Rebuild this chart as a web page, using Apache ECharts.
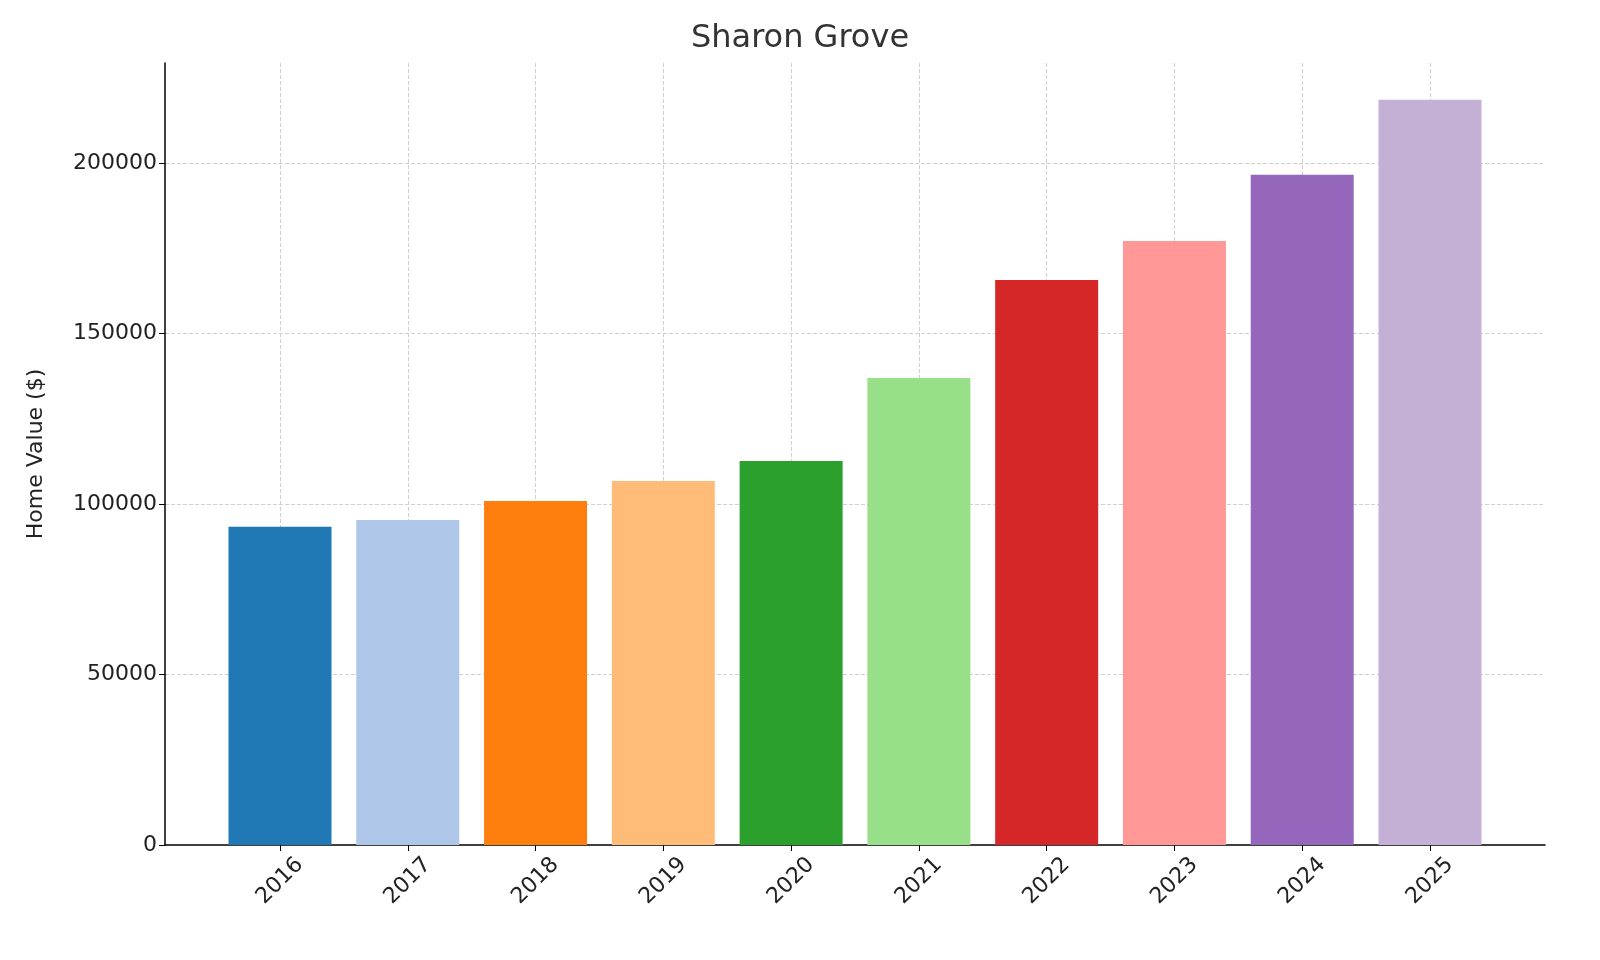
<!DOCTYPE html>
<html>
<head>
<meta charset="utf-8">
<script src="https://cdn.jsdelivr.net/npm/echarts@6/dist/echarts.min.js"></script>
<style>html,body{margin:0;padding:0;background:#fff}#chart{width:1600px;height:960px}</style>
</head>
<body>
<div id="chart"></div>
<script>
// data
const years = ['2016', '2017', '2018', '2019', '2020', '2021', '2022', '2023', '2024', '2025']
const homeValues = [93300, 95300, 100900, 106700, 112600, 136900, 165700, 177100, 196500, 218500]
const barColors = ['#1f77b4', '#aec7e8', '#ff7f0e', '#ffbb78', '#2ca02c', '#98df8a', '#d62728', '#ff9896', '#9467bd', '#c5b0d5']

const font = 'DejaVu Sans'
const yMax = 229300

const chart = echarts.init(document.getElementById('chart'), null, { renderer: 'canvas' })
chart.setOption({
  animation: false,
  title: {
    text: 'Sharon Grove',
    left: 'center',
    top: 18,
    textStyle: { fontFamily: font, fontSize: 32, fontWeight: 'normal', color: '#333' }
  },
  grid: [
    // full frame: axis lines, y labels, horizontal grid
    { left: 165, right: 55, top: 63, bottom: 115 },
    // bar area: category centres from first to last bar
    { left: 280, right: 170, top: 63, bottom: 115 }
  ],
  xAxis: [
    {
      gridIndex: 0, type: 'value', min: 0, max: 1,
      axisLine: { show: true, onZero: false, lineStyle: { color: '#000', width: 1.5 } },
      axisTick: { show: false }, axisLabel: { show: false }, splitLine: { show: false }
    },
    {
      gridIndex: 1, type: 'category', data: years, boundaryGap: false,
      axisLine: { show: false },
      axisTick: { show: true, length: 6, lineStyle: { color: '#000' } },
      axisLabel: {
        rotate: 45, align: 'center', verticalAlign: 'middle', margin: 36,
        fontFamily: font, fontSize: 22, color: '#222'
      },
      splitLine: { show: true, lineStyle: { type: 'dashed', color: '#d0d0d0' } }
    }
  ],
  yAxis: [
    {
      gridIndex: 0, type: 'value', min: 0, max: yMax, interval: 50000,
      name: 'Home Value ($)', nameLocation: 'middle', nameGap: 118,
      nameTextStyle: { fontFamily: font, fontSize: 22, color: '#222' },
      axisLine: { show: true, lineStyle: { color: '#000', width: 1.5 } },
      axisTick: { show: true, length: 6, lineStyle: { color: '#000' } },
      axisLabel: { fontFamily: font, fontSize: 22, color: '#222', showMaxLabel: false, formatter: v => String(v) },
      splitLine: { show: true, showMaxLine: false, showMinLine: false, lineStyle: { type: 'dashed', color: '#d0d0d0' } }
    },
    {
      gridIndex: 1, type: 'value', min: 0, max: yMax, show: false,
      splitLine: { show: false }
    }
  ],
  series: [{
    type: 'bar',
    xAxisIndex: 1,
    yAxisIndex: 1,
    clip: false,
    barWidth: 103,
    z: 1,
    data: homeValues.map((v, i) => ({ value: v, itemStyle: { color: barColors[i] } }))
  }]
})
</script>
</body>
</html>
